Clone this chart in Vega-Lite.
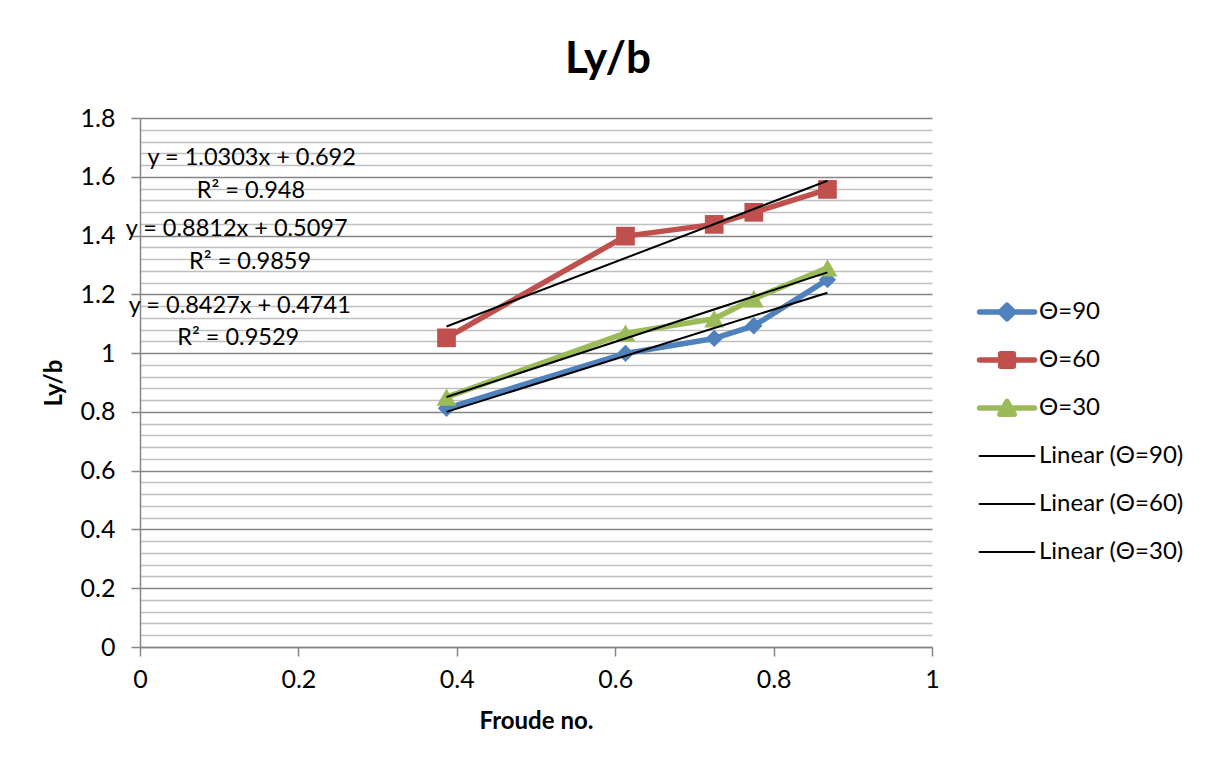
{
  "$schema": "https://vega.github.io/schema/vega-lite/v6.json",
  "width": 792,
  "height": 529,
  "autosize": {"type": "none"},
  "padding": {"left": 140, "top": 118, "right": 284, "bottom": 118},
  "background": "white",
  "config": {
    "font": "Lato",
    "view": {"stroke": null},
    "axis": {"labelFont": "Lato", "titleFont": "Lato", "labelColor": "black", "titleColor": "black"}
  },
  "title": {
    "text": "Ly/b",
    "fontSize": 44,
    "fontWeight": "bold",
    "font": "Lato",
    "color": "black",
    "anchor": "middle",
    "frame": "group",
    "dx": 72,
    "offset": 24
  },
  "datasets": {
    "obs": [
      {"series": "Θ=90", "fr": 0.387, "ly": 0.812},
      {"series": "Θ=90", "fr": 0.613, "ly": 0.999},
      {"series": "Θ=90", "fr": 0.725, "ly": 1.05},
      {"series": "Θ=90", "fr": 0.775, "ly": 1.093},
      {"series": "Θ=90", "fr": 0.868, "ly": 1.25},
      {"series": "Θ=60", "fr": 0.387, "ly": 1.052},
      {"series": "Θ=60", "fr": 0.613, "ly": 1.398},
      {"series": "Θ=60", "fr": 0.725, "ly": 1.438},
      {"series": "Θ=60", "fr": 0.775, "ly": 1.479},
      {"series": "Θ=60", "fr": 0.868, "ly": 1.557},
      {"series": "Θ=30", "fr": 0.387, "ly": 0.85},
      {"series": "Θ=30", "fr": 0.613, "ly": 1.068},
      {"series": "Θ=30", "fr": 0.725, "ly": 1.117},
      {"series": "Θ=30", "fr": 0.775, "ly": 1.185},
      {"series": "Θ=30", "fr": 0.868, "ly": 1.29}
    ],
    "trend": [
      {"series": "Linear (Θ=90)", "fr": 0.387, "ly": 0.8002},
      {"series": "Linear (Θ=90)", "fr": 0.868, "ly": 1.2056},
      {"series": "Linear (Θ=60)", "fr": 0.387, "ly": 1.0907},
      {"series": "Linear (Θ=60)", "fr": 0.868, "ly": 1.5863},
      {"series": "Linear (Θ=30)", "fr": 0.387, "ly": 0.8507},
      {"series": "Linear (Θ=30)", "fr": 0.868, "ly": 1.2746}
    ],
    "equations": [
      {"label": "y = 1.0303x + 0.692", "fr": 0.141, "ly": 1.664},
      {"label": "R² = 0.948", "fr": 0.140, "ly": 1.552},
      {"label": "y = 0.8812x + 0.5097", "fr": 0.122, "ly": 1.422},
      {"label": "R² = 0.9859", "fr": 0.139, "ly": 1.31},
      {"label": "y = 0.8427x + 0.4741", "fr": 0.126, "ly": 1.16},
      {"label": "R² = 0.9529", "fr": 0.124, "ly": 1.051}
    ]
  },
  "encoding": {
    "x": {
      "field": "fr",
      "type": "quantitative",
      "scale": {"domain": [0, 1], "nice": false, "zero": false},
      "axis": {
        "title": "Froude no.",
        "values": [0, 0.2, 0.4, 0.6, 0.8, 1],
        "format": "~g",
        "grid": false,
        "labelFlush": false,
        "domainColor": "#868686",
        "domainWidth": 1.5,
        "tickColor": "#868686",
        "tickWidth": 1.5,
        "tickSize": 9,
        "labelFontSize": 25,
        "labelPadding": 11,
        "titleFontSize": 24,
        "titleFontWeight": "bold",
        "titlePadding": 17
      }
    },
    "y": {
      "field": "ly",
      "type": "quantitative",
      "scale": {"domain": [0, 1.8], "nice": false, "zero": false},
      "axis": {
        "title": "Ly/b",
        "values": [0, 0.04, 0.08, 0.12, 0.16, 0.2, 0.24, 0.28, 0.32, 0.36, 0.4, 0.44, 0.48, 0.52, 0.56, 0.6, 0.64, 0.68, 0.72, 0.76, 0.8, 0.84, 0.88, 0.92, 0.96, 1, 1.04, 1.08, 1.12, 1.16, 1.2, 1.24, 1.28, 1.32, 1.36, 1.4, 1.44, 1.48, 1.52, 1.56, 1.6, 1.64, 1.68, 1.72, 1.76, 1.8],
        "format": "~g",
        "labelExpr": "round(datum.value * 100) % 20 == 0 ? datum.label : ''",
        "grid": true,
        "gridColor": {"condition": {"test": "round(datum.value * 100) % 20 == 0", "value": "#868686"}, "value": "#c0c0c0"},
        "gridWidth": 1.5,
        "domainColor": "#868686",
        "domainWidth": 1.5,
        "tickColor": "#868686",
        "tickWidth": 1.5,
        "tickOpacity": {"condition": {"test": "round(datum.value * 100) % 20 == 0", "value": 1}, "value": 0},
        "tickSize": 9,
        "labelFontSize": 25,
        "labelPadding": 16,
        "titleFontSize": 24,
        "titleFontWeight": "bold",
        "titlePadding": 14
      }
    },
    "color": {
      "field": "series",
      "type": "nominal",
      "scale": {
        "domain": ["Θ=90", "Θ=60", "Θ=30", "Linear (Θ=90)", "Linear (Θ=60)", "Linear (Θ=30)"],
        "range": ["#4F81BD", "#C0504D", "#9BBB59", "black", "black", "black"]
      },
      "legend": {
        "title": null,
        "orient": "none",
        "legendX": 855,
        "legendY": 182,
        "padding": 0,
        "symbolSize": 900,
        "symbolType": "M-1.83,0H1.83",
        "symbolStrokeWidth": 2,
        "labelOffset": 20,
        "labelFont": "Lato",
        "labelFontSize": 24,
        "labelColor": "black",
        "labelLimit": 300,
        "rowPadding": 24,
        "encode": {
          "symbols": {
            "update": {
              "shape": {"signal": "datum.value == 'Θ=90' ? 'M-1.83,0H1.83M0,-0.45L0.45,0L0,0.45L-0.45,0Z' : datum.value == 'Θ=60' ? 'M-1.83,0H1.83M-0.42,-0.42H0.42V0.42H-0.42Z' : datum.value == 'Θ=30' ? 'M-1.83,0H1.83M0,-0.44L0.48,0.42H-0.48Z' : 'M-1.83,0H1.83'"},
              "fill": {"signal": "indexof(['Θ=90', 'Θ=60', 'Θ=30'], datum.value) >= 0 ? scale('color', datum.value) : 'transparent'"},
              "stroke": {"signal": "scale('color', datum.value)"},
              "strokeWidth": {"signal": "indexof(['Θ=90', 'Θ=60', 'Θ=30'], datum.value) >= 0 ? 5.5 : 2"},
              "strokeCap": {"value": "round"},
              "strokeJoin": {"value": "round"},
              "opacity": {"value": 1}
            }
          }
        }
      }
    }
  },
  "layer": [
    {
      "data": {"name": "obs"},
      "mark": {"type": "line", "strokeWidth": 5.5, "strokeCap": "round", "strokeJoin": "round"},
      "encoding": {}
    },
    {
      "data": {"name": "obs"},
      "mark": {"type": "point", "filled": true, "opacity": 1},
      "encoding": {
        "shape": {
          "field": "series",
          "type": "nominal",
          "scale": {"domain": ["Θ=90", "Θ=60", "Θ=30"], "range": ["diamond", "square", "triangle-up"]},
          "legend": null
        },
        "size": {
          "field": "series",
          "type": "nominal",
          "scale": {"domain": ["Θ=90", "Θ=60", "Θ=30"], "range": [300, 400, 420]},
          "legend": null
        }
      }
    },
    {
      "data": {"name": "trend"},
      "mark": {"type": "line", "strokeWidth": 2},
      "encoding": {}
    },
    {
      "data": {"name": "equations"},
      "mark": {"type": "text", "font": "Lato", "fontSize": 23.5, "color": "black", "align": "center", "baseline": "middle"},
      "encoding": {
        "text": {"field": "label"},
        "color": {"value": "black"}
      }
    }
  ]
}
